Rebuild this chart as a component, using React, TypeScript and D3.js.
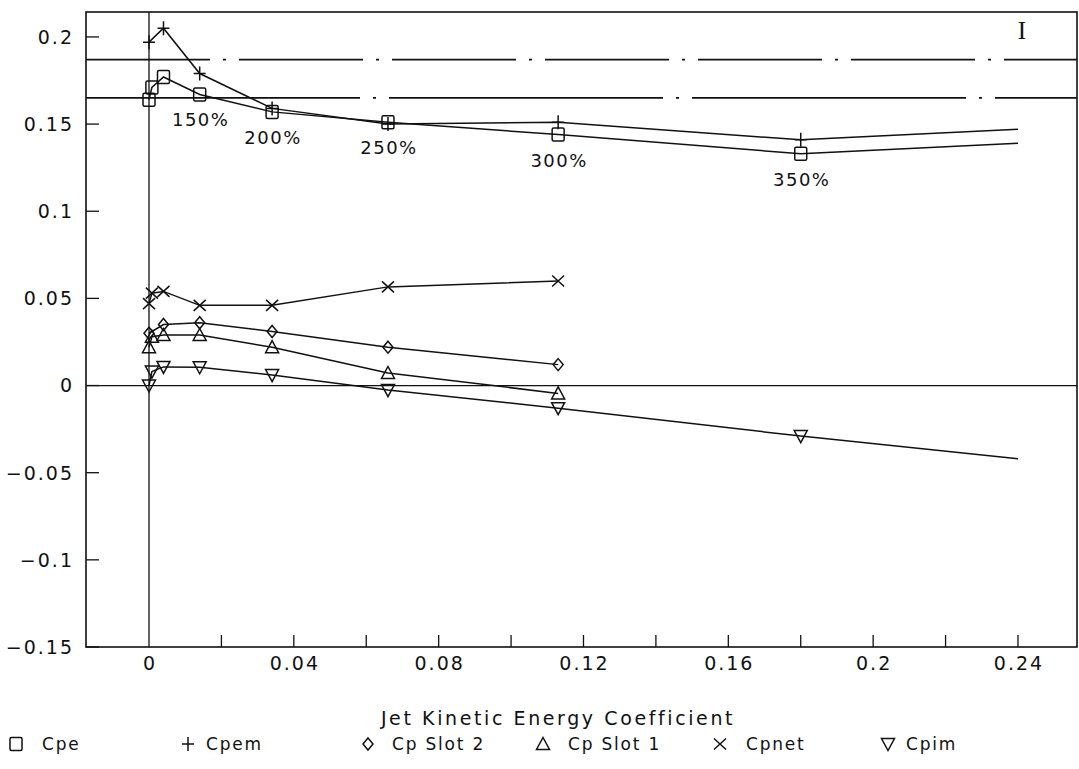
import React from "react";
import * as d3 from "d3";

// ---------- data ----------
const cpeX = [0, 0.0008, 0.004, 0.014, 0.034, 0.066, 0.113, 0.18, 0.24];
const cpeY = [0.164, 0.171, 0.177, 0.167, 0.157, 0.151, 0.144, 0.133, 0.139];
const cpemX = [0, 0.004, 0.014, 0.034, 0.066, 0.113, 0.18, 0.24];
const cpemY = [0.197, 0.205, 0.179, 0.159, 0.15, 0.151, 0.141, 0.147];
const slot2X = [0, 0.004, 0.014, 0.034, 0.066, 0.113];
const slot2Y = [0.03, 0.035, 0.036, 0.031, 0.022, 0.012];
const slot1X = [0, 0.0008, 0.004, 0.014, 0.034, 0.066, 0.113];
const slot1Y = [0.022, 0.028, 0.029, 0.029, 0.022, 0.0072, -0.0045];
const cpnetX = [0, 0.0008, 0.004, 0.014, 0.034, 0.066, 0.113];
const cpnetY = [0.047, 0.053, 0.054, 0.046, 0.046, 0.0566, 0.06];
const cpimX = [0, 0.0008, 0.004, 0.014, 0.034, 0.066, 0.113, 0.18, 0.24];
const cpimY = [0.0, 0.008, 0.0107, 0.0105, 0.006, -0.0026, -0.013, -0.029, -0.042];

const pctLabels = ["150%", "200%", "250%", "300%", "350%"];
const pctX = [0.014, 0.034, 0.066, 0.113, 0.18];

const refLevels = [0.187, 0.165];
const xTickValues = [0.02, 0.04, 0.06, 0.08, 0.1, 0.12, 0.14, 0.16, 0.18, 0.2, 0.22, 0.24];
const xTickLabels = ["0", "0.04", "0.08", "0.12", "0.16", "0.2", "0.24"];
const xLabelValues = [0, 0.04, 0.08, 0.12, 0.16, 0.2, 0.24];
const yTickValues = [0.2, 0.15, 0.1, 0.05, 0, -0.05, -0.1, -0.15];
const yTickLabels = ["0.2", "0.15", "0.1", "0.05", "0", "\u22120.05", "\u22120.1", "\u22120.15"];

const seriesNames = ["Cpe", "Cpem", "Cp Slot 2", "Cp Slot 1", "Cpnet", "Cpim"];
const xDomain = [-0.0174, 0.2563];
const yDomain = [-0.15, 0.2143];
const noMarkerX = 0.24;

// ---------- layout ----------
const W = 1079;
const H = 769;
const plotL = 86, plotR = 1077, plotT = 12, plotB = 647;
const FONT = "'DejaVu Sans', sans-serif";
const INK = "#111";

const x = d3.scaleLinear().domain(xDomain).range([plotL, plotR]);
const y = d3.scaleLinear().domain(yDomain).range([plotB, plotT]);

type Sym = "square" | "plus" | "diamond" | "tri" | "cross" | "tridown";
const symbols: Sym[] = ["square", "plus", "diamond", "tri", "cross", "tridown"];

function Marker({ cx, cy, s }: { cx: number; cy: number; s: Sym }) {
  const st = { fill: "none", stroke: INK, strokeWidth: 1.5 } as const;
  switch (s) {
    case "square":
      return <rect x={cx - 6} y={cy - 6.5} width={12} height={13} rx={1.5} {...st} />;
    case "plus":
      return <path d={`M${cx - 6},${cy}H${cx + 6}M${cx},${cy - 7}V${cy + 7}`} {...st} />;
    case "diamond":
      return <path d={`M${cx},${cy - 6}L${cx + 5},${cy}L${cx},${cy + 6}L${cx - 5},${cy}Z`} {...st} />;
    case "tri":
      return <path d={`M${cx},${cy - 6.5}L${cx + 6.5},${cy + 5.5}L${cx - 6.5},${cy + 5.5}Z`} {...st} />;
    case "cross":
      return <path d={`M${cx - 6},${cy - 5.5}L${cx + 6},${cy + 5.5}M${cx - 6},${cy + 5.5}L${cx + 6},${cy - 5.5}`} {...st} />;
    case "tridown":
      return <path d={`M${cx - 6.5},${cy - 5.5}L${cx + 6.5},${cy - 5.5}L${cx},${cy + 6.5}Z`} {...st} />;
  }
}

export default function App() {
  const series = [
    { xs: cpeX, ys: cpeY },
    { xs: cpemX, ys: cpemY },
    { xs: slot2X, ys: slot2Y },
    { xs: slot1X, ys: slot1Y },
    { xs: cpnetX, ys: cpnetY },
    { xs: cpimX, ys: cpimY },
  ];
  const line = d3
    .line<[number, number]>()
    .x((d) => x(d[0]))
    .y((d) => y(d[1]));

  const legendSymX = [16, 188, 368, 543, 720, 888];
  const legendTextX = [42, 206, 392, 568, 746, 906];
  const legendY = 750;

  return (
    <svg
      width={W}
      height={H}
      style={{ position: "absolute", left: 0, top: 0, background: "#fff" }}
      fontFamily={FONT}
    >
      <rect x={0} y={0} width={W} height={H} fill="#fff" />
      {/* frame */}
      <rect x={plotL} y={plotT} width={plotR - plotL} height={plotB - plotT} fill="none" stroke={INK} strokeWidth={1.6} />
      {/* zero lines */}
      <line x1={plotL} x2={plotR} y1={y(0)} y2={y(0)} stroke={INK} strokeWidth={1.3} />
      <line x1={x(0)} x2={x(0)} y1={plotT} y2={plotB} stroke={INK} strokeWidth={1.3} />
      {/* reference dash-dot lines */}
      <line x1={plotL} x2={plotR} y1={y(refLevels[0])} y2={y(refLevels[0])} stroke={INK} strokeWidth={1.8} strokeDasharray="124 13 3 13" />
      <line x1={plotL} x2={plotR} y1={y(refLevels[1])} y2={y(refLevels[1])} stroke={INK} strokeWidth={1.8} strokeDasharray="274 13 3 13" />
      {/* y ticks */}
      {yTickValues.map((v, i) => (
        <g key={"y" + i}>
          <line x1={plotL} x2={plotL + 13} y1={y(v)} y2={y(v)} stroke={INK} strokeWidth={1.3} />
          <text x={74} y={y(v)} dy="0.36em" textAnchor="end" fontSize={19} letterSpacing={2} fill={INK}>
            {yTickLabels[i]}
          </text>
        </g>
      ))}
      {/* x ticks */}
      {xTickValues.map((v, i) => (
        <line key={"xt" + i} x1={x(v)} x2={x(v)} y1={plotB} y2={plotB - 12} stroke={INK} strokeWidth={1.3} />
      ))}
      {xLabelValues.map((v, i) => (
        <text key={"xl" + i} x={x(v) + 1} y={670} textAnchor="middle" fontSize={19} letterSpacing={2} fill={INK}>
          {xTickLabels[i]}
        </text>
      ))}
      <text x={558} y={725} textAnchor="middle" fontSize={19} letterSpacing={2.6} fill={INK}>
        Jet Kinetic Energy Coefficient
      </text>
      {/* series lines */}
      {series.map((s, i) => (
        <path
          key={"l" + i}
          d={line(s.xs.map((xv, j) => [xv, s.ys[j]] as [number, number])) || ""}
          fill="none"
          stroke={INK}
          strokeWidth={1.5}
        />
      ))}
      {/* markers */}
      {series.map((s, i) =>
        s.xs.map((xv, j) =>
          xv === noMarkerX ? null : <Marker key={`m${i}-${j}`} cx={x(xv)} cy={y(s.ys[j])} s={symbols[i]} />
        )
      )}
      {/* percent labels */}
      {pctLabels.map((t, i) => {
        const idx = cpeX.indexOf(pctX[i]);
        return (
          <text key={"p" + i} x={x(pctX[i]) + 1} y={y(cpeY[idx]) + 32} textAnchor="middle" fontSize={18} letterSpacing={1.5} fill={INK}>
            {t}
          </text>
        );
      })}
      {/* I mark */}
      <text x={1022} y={39} textAnchor="middle" fontSize={25} fontFamily="'Liberation Serif', serif" fill={INK}>
        I
      </text>
      {/* legend */}
      {seriesNames.map((n, i) => (
        <g key={"lg" + i}>
          <Marker cx={legendSymX[i]} cy={legendY - 6} s={symbols[i]} />
          <text x={legendTextX[i]} y={legendY} fontSize={17} letterSpacing={1.8} fill={INK}>
            {n}
          </text>
        </g>
      ))}
    </svg>
  );
}
